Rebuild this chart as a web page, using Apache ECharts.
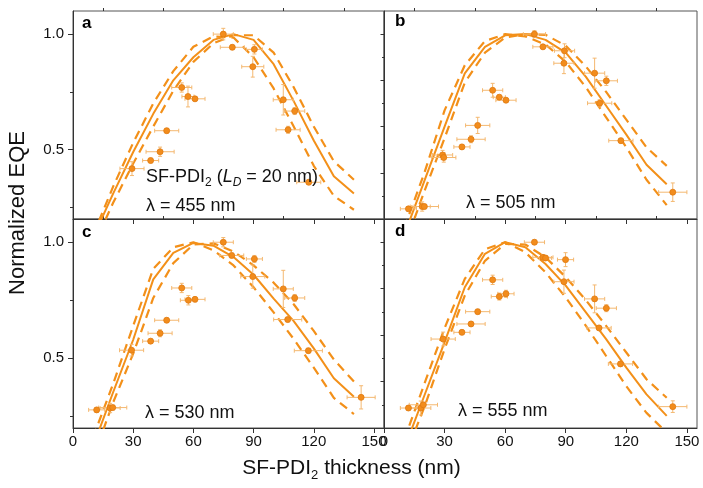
<!DOCTYPE html>
<html><head><meta charset="utf-8">
<script src="https://cdn.jsdelivr.net/npm/echarts@6/dist/echarts.min.js"></script>
<style>html,body{margin:0;padding:0;background:#fff}#c{width:703px;height:488px}</style>
</head><body><div id="c"></div>
<script>
// ---------- data ----------
const xMajorTicks = [0, 30, 60, 90, 120, 150];
const xMinorTicks = [15, 45, 75, 105, 135];
const curveX = [10, 20, 30, 40, 50, 60, 70, 80, 90, 100, 110, 120, 130, 140];

// panel a (λ = 455 nm)
const aSolid = [0.12, 0.31, 0.49, 0.655, 0.80, 0.90, 0.975, 1.0, 0.975, 0.87, 0.71, 0.54, 0.385, 0.31];
const aLow   = [0.13, 0.34, 0.53, 0.70, 0.84, 0.945, 0.99, 0.985, 0.90, 0.765, 0.60, 0.43, 0.30, 0.24];
const aHigh  = [0.08, 0.27, 0.44, 0.60, 0.755, 0.88, 0.96, 0.995, 0.995, 0.92, 0.77, 0.60, 0.45, 0.37];
const aPtX  = [74.9, 79.4, 90.4, 89.6, 54.2, 57.3, 60.8, 104.8, 110.5, 107.2, 46.7, 43.4, 38.7, 29.4, 117.5];
const aPtY  = [1.0, 0.943, 0.934, 0.859, 0.769, 0.730, 0.720, 0.716, 0.667, 0.586, 0.582, 0.491, 0.453, 0.418, 0.359];
const aXErr = [5, 6, 4, 5.5, 5, 3, 5, 5, 5, 6, 6, 7, 4, 6, 6];
const aYErr = [0.025, 0.01, 0.02, 0.045, 0.02, 0.045, 0.01, 0.066, 0.015, 0.015, 0.01, 0.02, 0.01, 0.03, 0.01];

// panel b (λ = 505 nm)
const bSolid = [0.13, 0.365, 0.60, 0.83, 0.945, 0.995, 1.0, 0.975, 0.92, 0.815, 0.69, 0.565, 0.435, 0.35];
const bLow   = [0.16, 0.40, 0.67, 0.865, 0.97, 1.0, 0.99, 0.955, 0.88, 0.77, 0.64, 0.51, 0.37, 0.26];
const bHigh  = [0.08, 0.32, 0.55, 0.79, 0.92, 0.985, 1.0, 0.997, 0.95, 0.86, 0.75, 0.63, 0.51, 0.43];
const bPtX  = [74.5, 78.7, 89.4, 89.1, 104.3, 110.1, 106.8, 117.3, 143.0, 53.8, 57.1, 60.4, 46.4, 43.1, 38.6, 29.0, 29.6, 12.1, 18.9, 20.0];
const bPtY  = [1.0, 0.945, 0.928, 0.874, 0.831, 0.798, 0.701, 0.539, 0.316, 0.757, 0.727, 0.714, 0.605, 0.545, 0.512, 0.477, 0.466, 0.244, 0.254, 0.254];
const bXErr = [5.5, 5, 5, 5, 5, 5.5, 6, 6, 7, 5, 3, 5, 6, 7, 4, 5, 6, 4, 4, 7];
const bYErr = [0.015, 0.01, 0.03, 0.045, 0.065, 0.02, 0.015, 0.01, 0.04, 0.03, 0.01, 0.01, 0.035, 0.015, 0.01, 0.02, 0.02, 0.01, 0.02, 0.01];

// panel c (λ = 530 nm)
const cSolid = [0.12, 0.354, 0.58, 0.84, 0.954, 0.997, 0.985, 0.936, 0.86, 0.757, 0.66, 0.543, 0.414, 0.335];
const cLow   = [0.16, 0.39, 0.64, 0.885, 0.978, 1.0, 0.965, 0.90, 0.806, 0.698, 0.583, 0.46, 0.33, 0.26];
const cHigh  = [0.07, 0.31, 0.52, 0.76, 0.91, 0.99, 0.995, 0.96, 0.90, 0.826, 0.733, 0.618, 0.495, 0.40];
const cPtX  = [74.9, 79.1, 90.4, 89.6, 104.8, 110.5, 107.0, 117.3, 143.6, 54.2, 57.5, 60.8, 46.7, 43.4, 38.7, 29.2, 11.8, 18.5, 19.8];
const cPtY  = [1.0, 0.943, 0.928, 0.852, 0.799, 0.760, 0.667, 0.533, 0.332, 0.803, 0.750, 0.754, 0.664, 0.608, 0.574, 0.535, 0.278, 0.286, 0.288];
const cXErr = [5, 6, 4, 6, 5, 5, 7, 7, 7, 5, 4, 5, 6, 6, 4, 6, 4, 5, 7];
const cYErr = [0.02, 0.01, 0.015, 0.05, 0.08, 0.015, 0.01, 0.01, 0.05, 0.02, 0.02, 0.01, 0.01, 0.015, 0.01, 0.025, 0.01, 0.02, 0.01];

// panel d (λ = 555 nm)
const dSolid = [0.11, 0.34, 0.57, 0.806, 0.95, 1.0, 0.978, 0.906, 0.813, 0.698, 0.583, 0.46, 0.345, 0.252];
const dLow   = [0.15, 0.39, 0.63, 0.842, 0.97, 1.0, 0.957, 0.87, 0.762, 0.64, 0.51, 0.38, 0.265, 0.18];
const dHigh  = [0.07, 0.29, 0.54, 0.77, 0.92, 0.993, 0.99, 0.935, 0.85, 0.75, 0.64, 0.525, 0.41, 0.33];
const dPtX  = [74.5, 78.7, 80.0, 89.9, 89.1, 104.3, 110.1, 106.5, 117.1, 143.0, 53.8, 57.1, 60.4, 46.4, 43.1, 38.6, 29.3, 12.1, 18.2, 19.5];
const dPtY  = [1.0, 0.935, 0.932, 0.925, 0.830, 0.756, 0.716, 0.631, 0.476, 0.292, 0.838, 0.766, 0.778, 0.701, 0.648, 0.612, 0.583, 0.286, 0.286, 0.300];
const dXErr = [5, 5, 3, 4, 5, 5, 5, 6, 6, 7, 5, 4, 4, 6, 7, 4, 6, 4, 5, 7];
const dYErr = [0.01, 0.01, 0.01, 0.03, 0.05, 0.06, 0.015, 0.01, 0.01, 0.025, 0.02, 0.015, 0.015, 0.01, 0.01, 0.01, 0.03, 0.01, 0.03, 0.01];

const panelLetters = ['a', 'b', 'c', 'd'];
const wavelengthLabels = ['λ = 455 nm', 'λ = 505 nm', 'λ = 530 nm', 'λ = 555 nm'];

// ---------- styling ----------
const FONT = 'Liberation Sans, Arial, Helvetica, sans-serif';
const LINE = '#F39019';
const PT = '#F28C1C';
const ERR = '#F4B870';
const AX = '#333333';

const panels = [
  { s: aSolid, l: aLow, h: aHigh, px: aPtX, py: aPtY, xe: aXErr, ye: aYErr },
  { s: bSolid, l: bLow, h: bHigh, px: bPtX, py: bPtY, xe: bXErr, ye: bYErr },
  { s: cSolid, l: cLow, h: cHigh, px: cPtX, py: cPtY, xe: cXErr, ye: cYErr },
  { s: dSolid, l: dLow, h: dHigh, px: dPtX, py: dPtY, xe: dXErr, ye: dYErr }
];

const grids = [
  { left: 73, top: 11, width: 311, height: 208 },
  { left: 384, top: 11, width: 313, height: 208 },
  { left: 73, top: 219, width: 311, height: 209 },
  { left: 384, top: 219, width: 313, height: 209 }
];

const xAxis = [], yAxis = [], series = [];

grids.forEach((g, i) => {
  g.show = true; g.borderColor = '#555'; g.borderWidth = 1; g.backgroundColor = 'transparent';
  const isBottom = i >= 2, isLeft = i % 2 === 0;
  xAxis.push({
    type: 'value', gridIndex: i, min: 0, max: 155,
    axisLine: { show: true, lineStyle: { color: AX, width: 1 } },
    axisTick: { show: true, length: 5, inside: false, customValues: xMajorTicks, lineStyle: { color: AX } },
    axisLabel: { show: isBottom, customValues: xMajorTicks, margin: 6, fontSize: 15, color: '#111', fontFamily: FONT },
    splitLine: { show: false }
  });
  xAxis.push({
    type: 'value', gridIndex: i, min: 0, max: 155,
    axisLine: { show: false },
    axisTick: { show: true, length: 3, customValues: xMinorTicks, lineStyle: { color: AX } },
    axisLabel: { show: false },
    splitLine: { show: false }
  });
  const yMaj = isLeft ? [0.5, 1.0] : [0.4, 0.6, 0.8, 1.0];
  const yMin = isLeft ? [0.25, 0.75] : [0.3, 0.5, 0.7, 0.9];
  yAxis.push({
    type: 'value', gridIndex: i, min: 0.2, max: 1.1, position: 'left',
    axisLine: { show: true, lineStyle: { color: AX, width: 1 } },
    axisTick: { show: true, length: isLeft ? 5 : 3.5, customValues: yMaj, lineStyle: { color: AX } },
    axisLabel: { show: isLeft, customValues: [0.5, 1.0], margin: 9, fontSize: 15, color: '#111', fontFamily: FONT,
                 formatter: v => v.toFixed(1) },
    splitLine: { show: false }
  });
  yAxis.push({
    type: 'value', gridIndex: i, min: 0.2, max: 1.1, position: 'left', offset: 0,
    axisLine: { show: false },
    axisTick: { show: true, length: isLeft ? 3 : 2, customValues: yMin, lineStyle: { color: AX } },
    axisLabel: { show: false },
    splitLine: { show: false }
  });

  const p = panels[i];
  const xi = 2 * i, yi = 2 * i;
  const mk = arr => curveX.map((x, k) => [x, arr[k]]);
  series.push({ type: 'line', xAxisIndex: xi, yAxisIndex: yi, data: mk(p.l), showSymbol: false, clip: true, silent: true,
    lineStyle: { color: LINE, width: 2.2, type: [9, 6] }, z: 2 });
  series.push({ type: 'line', xAxisIndex: xi, yAxisIndex: yi, data: mk(p.h), showSymbol: false, clip: true, silent: true,
    lineStyle: { color: LINE, width: 2.2, type: [9, 6] }, z: 2 });
  series.push({ type: 'line', xAxisIndex: xi, yAxisIndex: yi, data: mk(p.s), showSymbol: false, clip: true, silent: true,
    lineStyle: { color: LINE, width: 2 }, z: 2 });
  const errData = p.px.map((x, k) => [x, p.py[k], p.xe[k], p.ye[k]]);
  series.push({
    type: 'custom', xAxisIndex: xi, yAxisIndex: yi, data: errData, z: 3, silent: true,
    encode: { x: 0, y: 1 },
    renderItem: (params, api) => {
      const x = api.value(0), y = api.value(1), xe = api.value(2), ye = api.value(3);
      const c = api.coord([x, y]);
      const l = api.coord([x - xe, y]), r = api.coord([x + xe, y]);
      const t = api.coord([x, y + ye]), b = api.coord([x, y - ye]);
      const cap = 2;
      const st = { stroke: ERR, lineWidth: 1 };
      return { type: 'group', children: [
        { type: 'line', shape: { x1: l[0], y1: c[1], x2: r[0], y2: c[1] }, style: st },
        { type: 'line', shape: { x1: l[0], y1: c[1] - cap, x2: l[0], y2: c[1] + cap }, style: st },
        { type: 'line', shape: { x1: r[0], y1: c[1] - cap, x2: r[0], y2: c[1] + cap }, style: st },
        { type: 'line', shape: { x1: c[0], y1: t[1], x2: c[0], y2: b[1] }, style: st },
        { type: 'line', shape: { x1: c[0] - cap, y1: t[1], x2: c[0] + cap, y2: t[1] }, style: st },
        { type: 'line', shape: { x1: c[0] - cap, y1: b[1], x2: c[0] + cap, y2: b[1] }, style: st }
      ] };
    }
  });
  series.push({ type: 'scatter', xAxisIndex: xi, yAxisIndex: yi, data: p.px.map((x, k) => [x, p.py[k]]),
    symbol: 'circle', symbolSize: 6, z: 4, silent: true,
    itemStyle: { color: PT, borderColor: '#E07A10', borderWidth: 0.8, opacity: 1 } });
});

const letterPos = [[82, 24], [395, 22], [82, 233], [395, 232]];
const lambdaPos = [[146, 207], [466, 204], [145, 414], [458, 412]];

const graphic = [];
panelLetters.forEach((t, i) => {
  graphic.push({ type: 'text', left: letterPos[i][0], top: letterPos[i][1] - 9, z: 10,
    style: { text: t, font: 'bold 17px ' + FONT, fill: '#000' } });
  graphic.push({ type: 'text', left: lambdaPos[i][0], top: lambdaPos[i][1] - 10, z: 10,
    style: { text: wavelengthLabels[i], font: '18px ' + FONT, fill: '#111' } });
});
graphic.push({ type: 'text', left: 146, top: 168, z: 10,
  style: {
    text: '{n|SF-PDI}{s|2}{n| (}{i|L}{si|D}{n| = 20 nm)}',
    rich: {
      n: { fontSize: 18, fontFamily: FONT, lineHeight: 22, fill: '#111', verticalAlign: 'bottom', padding: [0, 0, 3, 0] },
      s: { fontSize: 12, fontFamily: FONT, lineHeight: 14, fill: '#111', verticalAlign: 'bottom' },
      i: { fontSize: 18, fontFamily: FONT, fontStyle: 'italic', lineHeight: 22, fill: '#111', verticalAlign: 'bottom', padding: [0, 0, 3, 0] },
      si: { fontSize: 12, fontFamily: FONT, fontStyle: 'italic', lineHeight: 14, fill: '#111', verticalAlign: 'bottom' }
    }
  } });
graphic.push({ type: 'text', x: 18, y: 213, rotation: Math.PI / 2, z: 10,
  style: { text: 'Normalized EQE', font: '22px ' + FONT, fill: '#111', align: 'center', verticalAlign: 'middle' } });
graphic.push({ type: 'text', left: 'center', top: 458, z: 10,
  style: {
    text: '{n|SF-PDI}{s|2}{n| thickness (nm)}',
    rich: {
      n: { fontSize: 21, fontFamily: FONT, lineHeight: 26, fill: '#111', verticalAlign: 'bottom', padding: [0, 0, 3, 0] },
      s: { fontSize: 13, fontFamily: FONT, lineHeight: 16, fill: '#111', verticalAlign: 'bottom' }
    }
  } });

const chart = echarts.init(document.getElementById('c'), null, { renderer: 'canvas' });
chart.setOption({
  animation: false,
  backgroundColor: '#fff',
  grid: grids, xAxis, yAxis, series, graphic
});
</script></body></html>
